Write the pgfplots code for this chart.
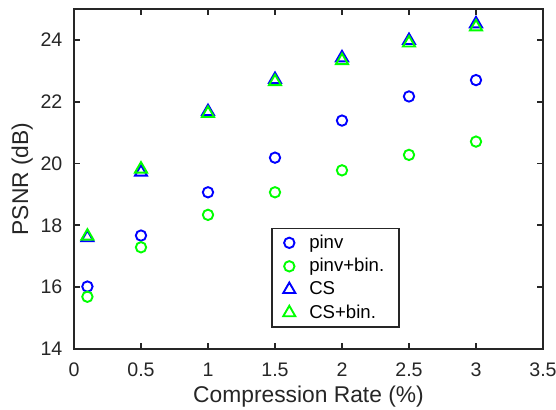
\documentclass[border=0pt]{standalone}
\usepackage{fontspec}
\setmainfont{Liberation Sans}
\usepackage{pgfplots}
\pgfplotsset{compat=1.18}
\definecolor{axgray}{rgb}{0.15,0.15,0.15}
\begin{document}
\begin{tikzpicture}
\begin{axis}[
    width=234.5pt, height=170pt,
    scale only axis,
    xmin=0, xmax=3.5, ymin=14, ymax=25,
    xtick={0,0.5,...,3.5},
    ytick={14,16,...,24},
    tick align=inside,
    major tick length=3pt,
    axis line style={axgray, line width=0.9pt},
    every tick/.style={axgray, line width=0.9pt},
    tick label style={font=\fontsize{9.8}{11}\selectfont, text=axgray},
    xticklabel style={yshift=-3.5pt},
    yticklabel style={xshift=-2.3pt},
    /pgf/number format/assume math mode=true,
    label style={font=\fontsize{11.4}{13}\selectfont, text=axgray},
    xlabel={Compression Rate (\%)},
    ylabel={PSNR (dB)},
    xlabel style={yshift=2.5pt},
    ylabel style={yshift=-3pt},
    legend style={at={(0.421,0.062)}, anchor=south west,
        draw=axgray, line width=0.9pt, fill=white,
        font=\fontsize{9.3}{11}\selectfont,
        row sep=-0.5pt, inner xsep=1.5pt, inner ysep=1pt},
    legend cell align=left,
    legend image code/.code={%
        \path (0pt,0pt) (14pt,0pt);
        \draw[#1] plot coordinates {(6.5pt,0pt)};},
]
\addplot[only marks, mark=o, mark size=2.6pt, blue, line width=0.95pt]
  coordinates {(0.1,16.02)(0.5,17.67)(1,19.07)(1.5,20.19)(2,21.39)(2.5,22.17)(3,22.70)};
\addlegendentry{pinv}
\addplot[only marks, mark=o, mark size=2.6pt, green, line width=0.95pt]
  coordinates {(0.1,15.69)(0.5,17.29)(1,18.34)(1.5,19.07)(2,19.78)(2.5,20.28)(3,20.71)};
\addlegendentry{pinv+bin.\hspace*{4pt}}
\addplot[only marks, mark=triangle, mark size=3.5pt, blue, line width=0.95pt]
  coordinates {(0.1,17.60)(0.5,19.72)(1,21.68)(1.5,22.72)(2,23.42)(2.5,23.98)(3,24.52)};
\addlegendentry{CS}
\addplot[only marks, mark=triangle, mark size=3.5pt, green, line width=0.95pt]
  coordinates {(0.1,17.65)(0.5,19.82)(1,21.62)(1.5,22.65)(2,23.33)(2.5,23.90)(3,24.42)};
\addlegendentry{CS+bin.}
\end{axis}
\pgfresetboundingbox
\path ([xshift=-37pt,yshift=4.5pt]current axis.north west)
      ([xshift=6.5pt,yshift=-30.5pt]current axis.south east);
\end{tikzpicture}
\end{document}
